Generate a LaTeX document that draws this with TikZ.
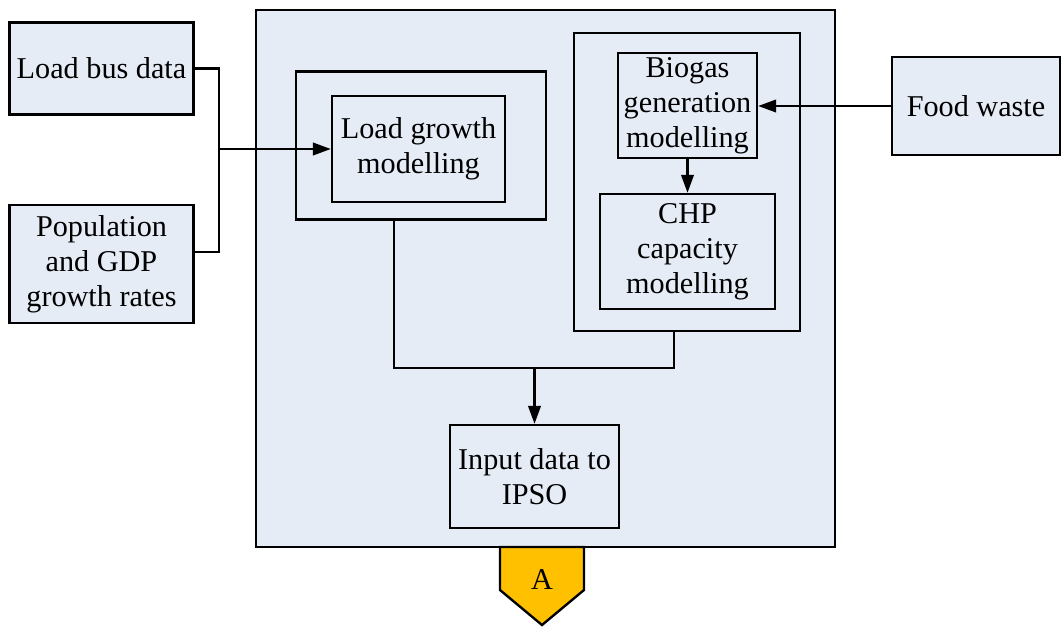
\documentclass[tikz,border=0pt]{standalone}
\usepackage{fontspec}
\setmainfont{Liberation Serif}
\usetikzlibrary{arrows.meta}
\definecolor{paleblue}{RGB}{230,236,246}
\definecolor{tagorange}{RGB}{255,192,0}

\begin{document}
\begin{tikzpicture}[x=0.02cm,y=-0.02cm,line width=1.35pt,
        font=\fontsize{17.2}{20}\selectfont,
        box/.style={draw,fill=paleblue,inner sep=0pt,align=center},
        frame/.style={draw,inner sep=0pt},
        arr/.style={-{Triangle[length=3.6mm,width=2.5mm]}}]
    \useasboundingbox (0,0) rectangle (1061,626);
    % outer block
    \node[box,minimum width=11.58cm,minimum height=10.74cm] (main) at (545.5,278.5) {};
    % inputs on the left and right
    \node[box,minimum width=3.68cm,minimum height=1.84cm] (bus) at (101.5,68.5) {Load bus data};
    \node[box,minimum width=3.68cm,minimum height=2.36cm] (pop) at (101.5,264) {Population\\and GDP\\growth rates};
    \node[box,minimum width=3.36cm,minimum height=1.96cm] (food) at (976,106) {Food waste};
    % modelling blocks
    \node[frame,minimum width=5cm,minimum height=2.96cm] (lgout) at (421,145.5) {};
    \node[frame,align=center,minimum width=3.46cm,minimum height=2.12cm] (lg) at (418.5,149) {Load growth\\modelling};
    \node[frame,minimum width=4.52cm,minimum height=5.96cm] (rout) at (687,182) {};
    \node[frame,align=center,minimum width=2.78cm,minimum height=2.1cm] (bio) at (687.5,105.5) {Biogas\\generation\\modelling};
    \node[frame,align=center,minimum width=3.5cm,minimum height=2.3cm] (chp) at (687.5,251.5) {CHP\\capacity\\modelling};
    \node[frame,align=center,minimum width=3.38cm,minimum height=2.06cm] (inp) at (534.5,476.5) {Input data to\\IPSO};
    % connectors
    \coordinate (j1) at (219,149);
    \draw (bus.east) -| (j1);
    \draw ([yshift=0.24cm]pop.east) -| (j1);
    \draw[arr] (j1) -- (j1 -| lg.west);
    \draw[arr] (food.west) -- (food.west -| bio.east);
    \draw[arr] (bio.south) -- (chp.north);
    \coordinate (c1) at (394,368);
    \coordinate (c2) at (674,368);
    \draw (lgout.south -| c1) -- (c1) -- (c2) -- (rout.south -| c2);
    \draw[arr] (inp.north |- c1) -- (inp.north);
    % off-page tag
    \coordinate (t1) at (500,547);
    \coordinate (t2) at (584,547);
    \coordinate (t3) at (584,590);
    \coordinate (t4) at (542,625);
    \coordinate (t5) at (500,590);
    \draw[fill=tagorange] (t1) -- (t2) -- (t3) -- (t4) -- (t5) -- cycle;
    \node (tag) at (542,580) {A};
\end{tikzpicture}
\end{document}
